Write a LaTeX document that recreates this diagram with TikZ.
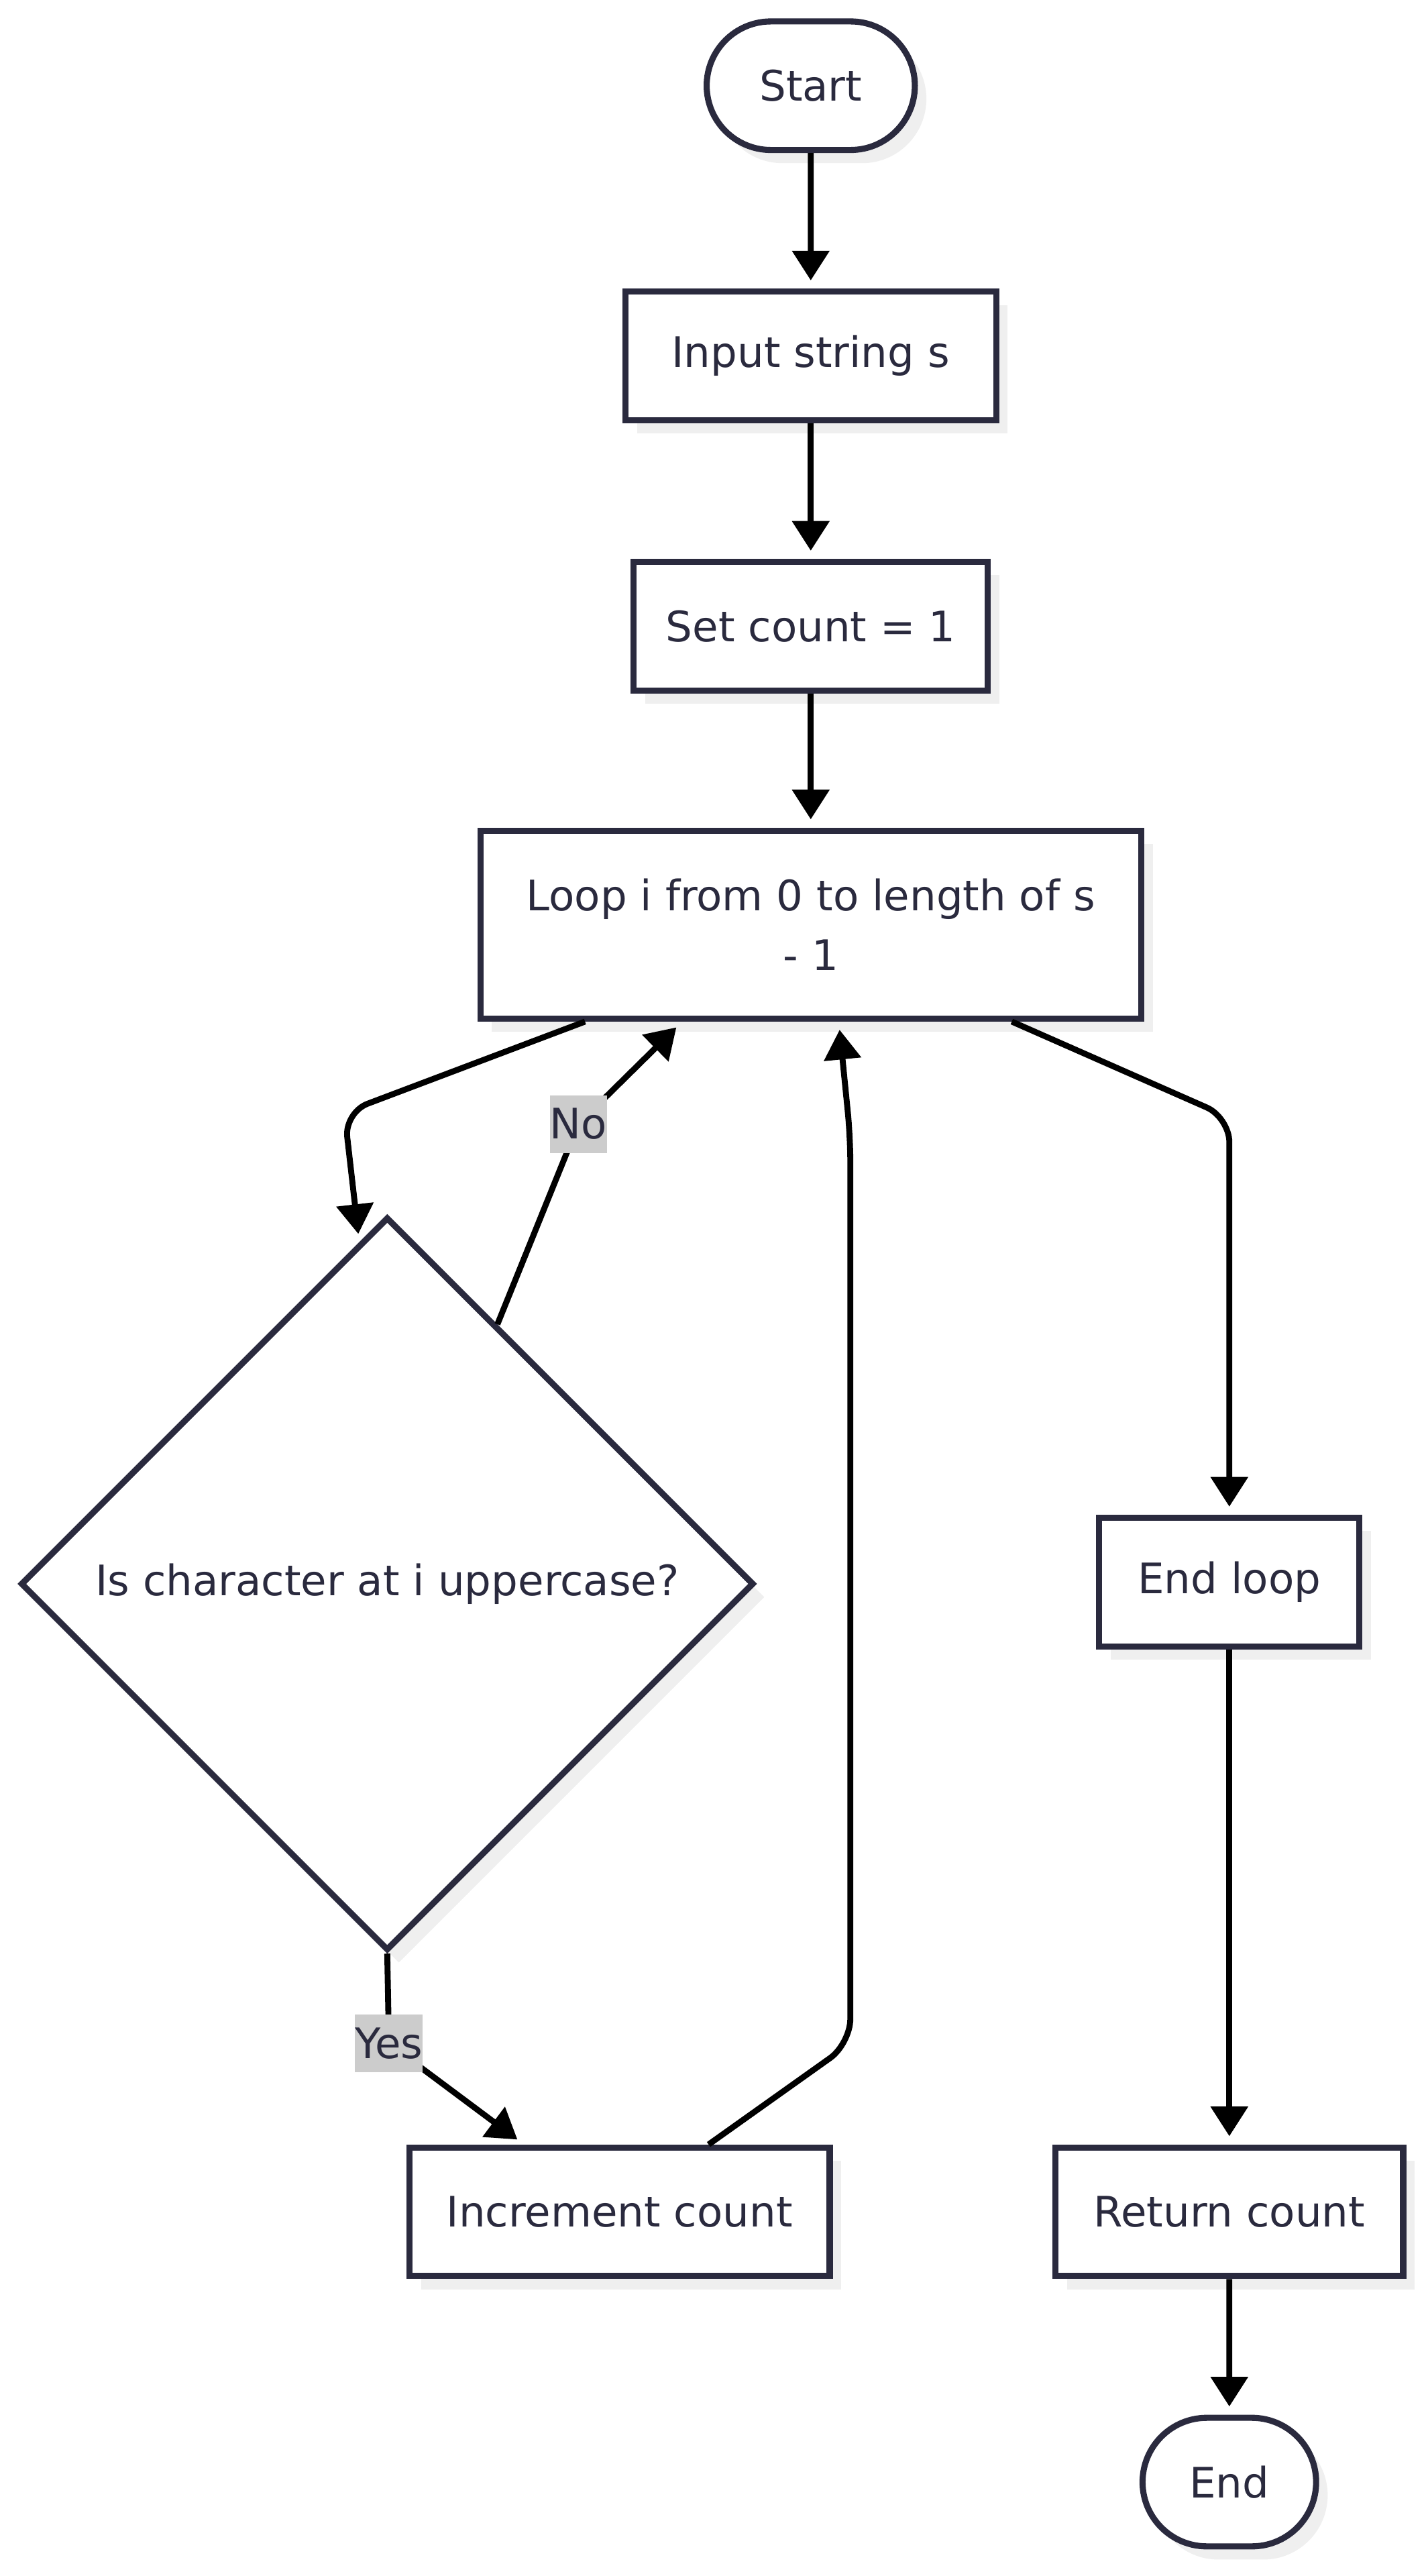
\documentclass[tikz,border=0pt]{standalone}
\usepackage{fontspec}
\setmainfont{DejaVu Sans}
\usetikzlibrary{positioning}
\usetikzlibrary{shapes.geometric}
\usetikzlibrary{shapes.misc}
\usetikzlibrary{shadows}
\usetikzlibrary{arrows.meta}
\definecolor{nodeline}{RGB}{42,42,62}
\definecolor{shade}{RGB}{239,239,239}
\definecolor{lblbg}{RGB}{204,204,204}

\begin{document}
\begin{tikzpicture}[x=1pt,y=-1pt,
		every node/.style={
			text=nodeline,
			font=\fontsize{25.5}{36}\selectfont
		},
		proc/.style={
			rectangle,
			draw=nodeline,
			line width=3.7pt,
			fill=white,
			minimum height=78pt,
			drop shadow={shadow xshift=7pt,shadow yshift=-8pt,fill=shade,opacity=1}
		},
		term/.style={proc,rounded rectangle},
		dec/.style={proc,diamond,minimum width=445pt,minimum height=445pt,inner sep=0pt},
		lbl/.style={fill=lblbg,sharp corners,inner sep=0pt,minimum height=35pt},
		arr/.style={-{Triangle[length=18pt,width=22pt]},line width=3.6pt,shorten >=5pt,rounded corners=15pt}]

		\useasboundingbox (0,0) rectangle (865,1563);

		\node[term, minimum width=133pt] at (492,52) (start) {Start};
		\node[proc, below of=start, node distance=164pt, minimum width=225pt] (inp) {Input string s};
		\node[proc, below of=inp, node distance=164pt, minimum width=215pt] (cnt) {Set count = 1};
		\node[proc, below of=cnt, node distance=181pt, minimum width=401pt, minimum height=114pt, align=center] (loop) {Loop i from 0 to length of s\\- 1};

		\node[dec] at (235,961) (chk) {Is character at i uppercase?};
		\node[proc, minimum width=255pt] at (376,1342) (inc) {Increment count};

		\node[proc, minimum width=158pt] at (746,960) (endl) {End loop};
		\node[proc, below of=endl, node distance=382pt, minimum width=211pt] (ret) {Return count};
		\node[term, below of=ret, node distance=164pt, minimum width=112pt] (stop) {End};

		%edges
		\draw[arr] (start) -- (inp);
		\draw[arr] (inp) -- (cnt);
		\draw[arr] (cnt) -- (loop);
		\draw[arr] ([xshift=-137pt]loop.south) -- (209,675) -- ([xshift=-17pt,yshift=-17pt]chk.north);
		\draw[arr] (chk.67) -- (351,682) node[lbl] {No} -- ([xshift=-78pt]loop.south);
		\draw[arr] (chk.south) -- (236,1240) node[lbl] {Yes} -- ([xshift=-58pt]inc.north);
		\draw[arr] ([xshift=54pt]inc.north) -- (516,1240) -- (516,690) -- ([xshift=17pt]loop.south);
		\draw[arr] ([xshift=122pt]loop.south) -- (746,678) -- (endl);
		\draw[arr] (endl) -- (ret);
		\draw[arr] (ret) -- (stop);

	\end{tikzpicture}
\end{document}
